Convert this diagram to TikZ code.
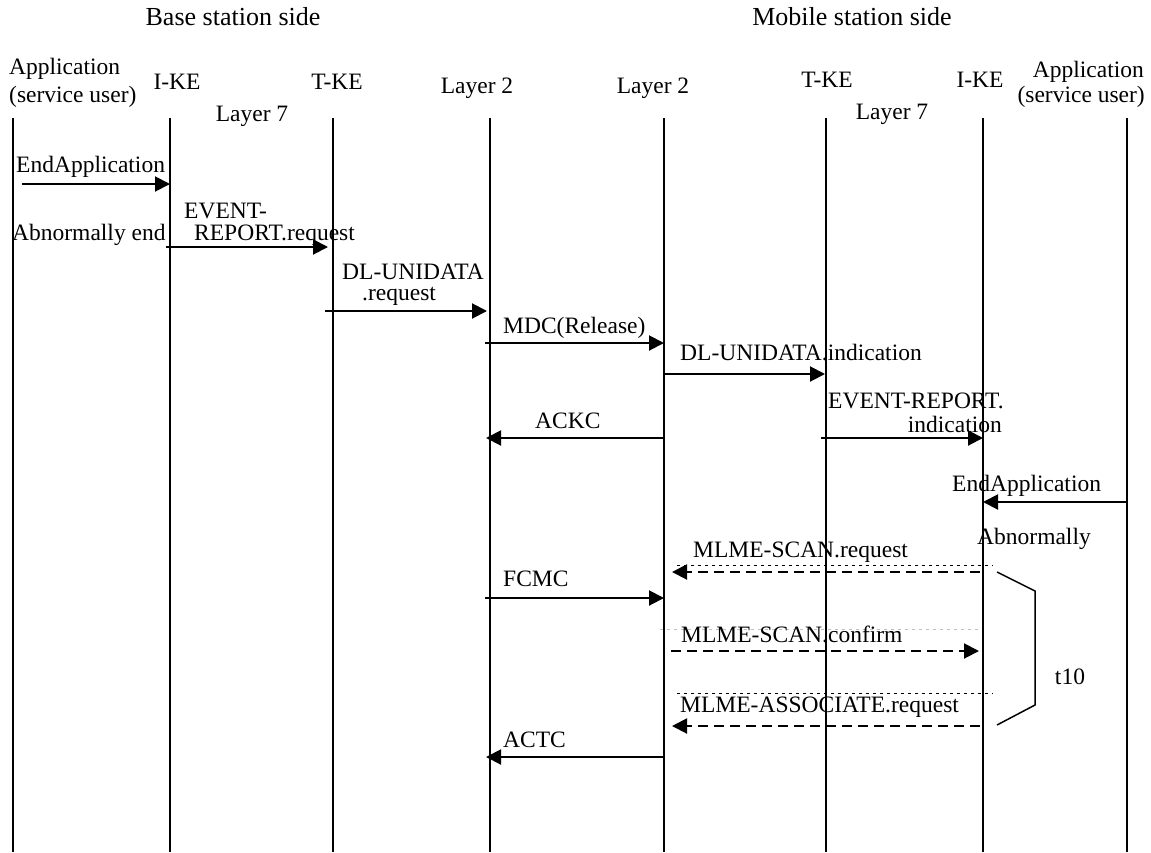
\documentclass[tikz,border=0pt]{standalone}
\usepackage{fontspec}
\setmainfont{Liberation Serif}
\usetikzlibrary{arrows.meta}
\begin{document}
\begin{tikzpicture}[x=1pt,y=-1pt,
  lbl/.style={inner sep=0pt, font=\fontsize{23.5}{25}\selectfont},
  ttl/.style={inner sep=0pt, font=\fontsize{26}{28}\selectfont},
  life/.style={line width=2pt},
  msg/.style={line width=2pt, -{Triangle[length=15pt,width=15pt]}},
  dmsg/.style={msg, dash pattern=on 10pt off 6pt},
  dotl/.style={line width=1pt, dash pattern=on 3pt off 4pt},
  fdotl/.style={line width=0.8pt, gray!50, dash pattern=on 3pt off 4pt},
  brk/.style={line width=1.5pt},
]
\path[use as bounding box] (0,0) rectangle (1151,852);

% titles
\node[ttl] (tbase) at (233,17) {Base station side};
\node[ttl] (tmob) at (852,17) {Mobile station side};

% headers
\node[lbl,anchor=west] (hA1) at (9,69) {Application};
\node[lbl,anchor=west] (hA2) at (9,97) {(service user)};
\node[lbl] (hIKE1) at (177,82) {I-KE};
\node[lbl] (hTKE1) at (337,82) {T-KE};
\node[lbl] (hL71) at (252,116) {Layer 7};
\node[lbl] (hL21) at (477,88) {Layer 2};
\node[lbl] (hL22) at (653,88) {Layer 2};
\node[lbl] (hTKE2) at (827,80) {T-KE};
\node[lbl] (hIKE2) at (980,80) {I-KE};
\node[lbl] (hL72) at (892,114) {Layer 7};
\node[lbl,anchor=east] (hB1) at (1144,72) {Application};
\node[lbl,anchor=east] (hB2) at (1145,97) {(service user)};

% lifelines
\foreach \n/\x in {LA/13,LB/170,LC/333,LD/490,LE/664,LF/826,LG/983,LH/1127}{
  \draw[life] (\x,118) coordinate (\n t) -- (\x,852) coordinate (\n b);
}

% message endpoints
\coordinate (m1s) at (22,184);   \coordinate (m1e) at (170,184);
\coordinate (m2s) at (166,247);  \coordinate (m2e) at (328,247);
\coordinate (m3s) at (325,311);  \coordinate (m3e) at (487,311);
\coordinate (m4s) at (485,343);  \coordinate (m4e) at (664,343);
\coordinate (m5s) at (664,374);  \coordinate (m5e) at (825,374);
\coordinate (m6s) at (821,438);  \coordinate (m6e) at (983,438);
\coordinate (m7s) at (664,438);  \coordinate (m7e) at (486,438);
\coordinate (m8s) at (1127,502); \coordinate (m8e) at (983,502);
\coordinate (m9s) at (980,572);  \coordinate (m9e) at (672,572);
\coordinate (m10s) at (485,598); \coordinate (m10e) at (664,598);
\coordinate (m11s) at (671,651); \coordinate (m11e) at (979,651);
\coordinate (m12s) at (980,726); \coordinate (m12e) at (672,726);
\coordinate (m13s) at (664,757); \coordinate (m13e) at (486,757);

\draw[msg] (m1s) -- (m1e);
\draw[msg] (m2s) -- (m2e);
\draw[msg] (m3s) -- (m3e);
\draw[msg] (m4s) -- (m4e);
\draw[msg] (m5s) -- (m5e);
\draw[msg] (m6s) -- (m6e);
\draw[msg] (m7s) -- (m7e);
\draw[msg] (m8s) -- (m8e);
\draw[dmsg] (m9s) -- (m9e);
\draw[msg] (m10s) -- (m10e);
\draw[dmsg] (m11s) -- (m11e);
\draw[dmsg] (m12s) -- (m12e);
\draw[msg] (m13s) -- (m13e);

% dotted guide lines
\coordinate (d1s) at (677,565); \coordinate (d1e) at (993,565);
\coordinate (d2s) at (660,629); \coordinate (d2e) at (978,629);
\coordinate (d3s) at (677,693); \coordinate (d3e) at (993,693);
\draw[dotl] (d1s) -- (d1e);
\draw[fdotl] (d2s) -- (d2e);
\draw[dotl] (d3s) -- (d3e);

% bracket
\draw[brk] (997,572) -- (1035,591) -- (1035,705) -- (997,725);

% message labels
\node[lbl,anchor=west] (l1) at (16,167) {EndApplication};
\node[lbl,anchor=west] (l2a) at (184,211) {EVENT-};
\node[lbl,anchor=west] (l2b) at (194,235) {REPORT.request};
\node[lbl,anchor=west] (l2c) at (12,235) {Abnormally end};
\node[lbl,anchor=west] (l3a) at (342,272) {DL-UNIDATA};
\node[lbl,anchor=west] (l3b) at (362,296) {.request};
\node[lbl,anchor=west] (l4) at (503,328) {MDC(Release)};
\node[lbl,anchor=west] (l5) at (680,353) {DL-UNIDATA.indication};
\node[lbl,anchor=west] (l6a) at (828,401) {EVENT-REPORT.};
\node[lbl,anchor=east] (l6b) at (1002,424) {indication};
\node[lbl,anchor=west] (l7) at (535,421) {ACKC};
\node[lbl,anchor=west] (l8a) at (952,486) {EndApplication};
\node[lbl,anchor=west] (l8b) at (977,539) {Abnormally};
\node[lbl,anchor=west] (l9) at (693,552) {MLME-SCAN.request};
\node[lbl,anchor=west] (l10) at (503,579) {FCMC};
\node[lbl,anchor=west] (l11) at (681,634) {MLME-SCAN.confirm};
\node[lbl,anchor=west] (l12) at (680,707) {MLME-ASSOCIATE.request};
\node[lbl,anchor=west] (l13) at (503,740) {ACTC};
\node[lbl] (lt10) at (1070,677) {t10};
\end{tikzpicture}
\end{document}
